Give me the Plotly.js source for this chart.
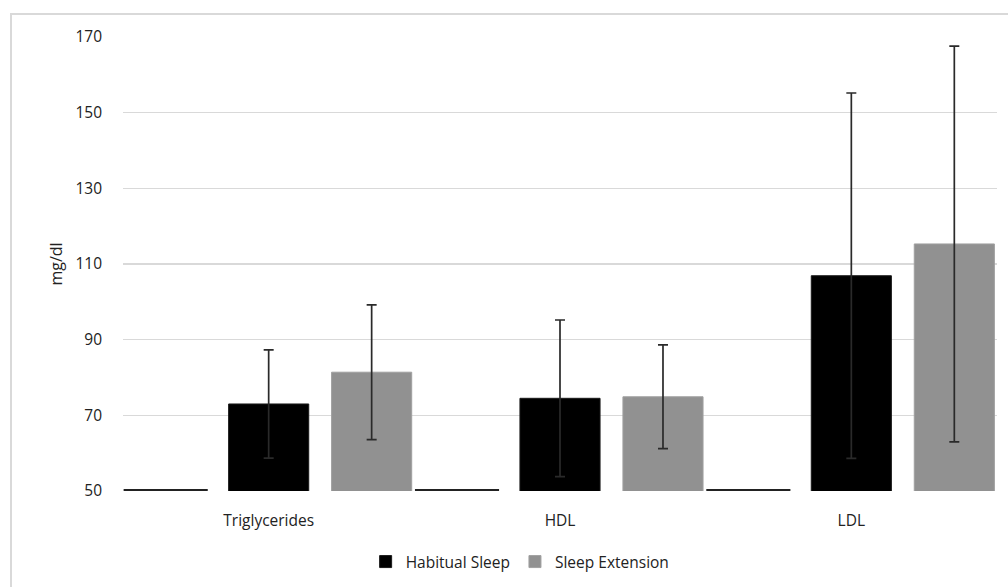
<!DOCTYPE html>
<html>
<head>
<meta charset="utf-8">
<script src="https://cdn.plot.ly/plotly-3.0.1.min.js"></script>
<style>
  html, body { margin: 0; padding: 0; background: #fff; }
  #wrap { position: relative; width: 1008px; height: 587px; overflow: hidden; }
  #frame { position: absolute; left: 10px; top: 13px; width: 1100px; height: 700px;
           border-left: 2px solid #d9d9d9; border-top: 2px solid #d9d9d9; pointer-events: none; }
  #chart { position: absolute; left: 0; top: 0; width: 1008px; height: 587px; }
</style>
</head>
<body>
<div id="wrap">
  <div id="chart"></div>
  <div id="frame"></div>
</div>
<script>
// Data
const categories = ["Triglycerides", "HDL", "LDL"];
const seriesNames = ["Habitual Sleep", "Sleep Extension"];
const habitualMean = [73.0, 74.5, 106.9];
const habitualSD = [14.3, 20.7, 48.3];
const extensionMean = [81.4, 74.9, 115.3];
const extensionSD = [17.8, 13.7, 52.3];
// empty first series (sits at the axis minimum)
const emptySeries = [50, 50, 50];
const yTicks = [50, 70, 90, 110, 130, 150, 170];

const fontFam = "'Open Sans', 'Noto Sans', 'Liberation Sans', sans-serif";
const txtCol = "#222222";
const barW = 0.275;

const traces = [
  {
    type: "bar", x: categories, y: emptySeries, base: 0,
    width: barW, offset: -0.491,
    marker: { color: "#000", line: { color: "#222", width: 4 } },
    showlegend: false, hoverinfo: "skip"
  },
  {
    type: "bar", name: seriesNames[0], x: categories, y: habitualMean,
    width: barW, offset: -0.1375,
    marker: { color: "#000000", line: { color: "#1a1a1a", width: 1 } },
    error_y: { type: "data", array: habitualSD, visible: true, color: "#2a2a2a", thickness: 1.7, width: 5 }
  },
  {
    type: "bar", name: seriesNames[1], x: categories, y: extensionMean,
    width: barW, offset: 0.216,
    marker: { color: "#919191", line: { color: "#a0a0a0", width: 1 } },
    error_y: { type: "data", array: extensionSD, visible: true, color: "#2a2a2a", thickness: 1.7, width: 5 }
  }
];

const layout = {
  width: 1008, height: 587,
  margin: { l: 123, r: 11, t: 37, b: 96, autoexpand: false },
  paper_bgcolor: "#ffffff", plot_bgcolor: "#ffffff",
  barmode: "overlay",
  font: { family: fontFam, size: 15.5, color: txtCol },
  xaxis: {
    type: "category", range: [-0.5, 2.5],
    showgrid: false, zeroline: false, showline: false, ticks: "",
    tickfont: { family: fontFam, size: 15.5, color: txtCol },
    ticklabelstandoff: 18
  },
  yaxis: {
    range: [50, 170], tickvals: yTicks, ticktext: yTicks.map(String),
    showgrid: true, gridcolor: "#d9d9d9", gridwidth: 1.5,
    zeroline: false, showline: false, ticks: "",
    tickfont: { family: fontFam, size: 15.5, color: txtCol },
    ticklabelstandoff: 20,
    title: { text: "mg/dl", font: { family: fontFam, size: 16, color: txtCol }, standoff: 8 }
  },
  legend: {
    orientation: "h", xref: "container", yref: "container",
    x: 0.516, xanchor: "center", y: 0.0426, yanchor: "middle",
    font: { family: fontFam, size: 15.5, color: txtCol },
    itemwidth: 30, traceorder: "normal"
  },
  showlegend: true
};

Plotly.newPlot("chart", traces, layout, { displayModeBar: false, staticPlot: true });
</script>
</body>
</html>
